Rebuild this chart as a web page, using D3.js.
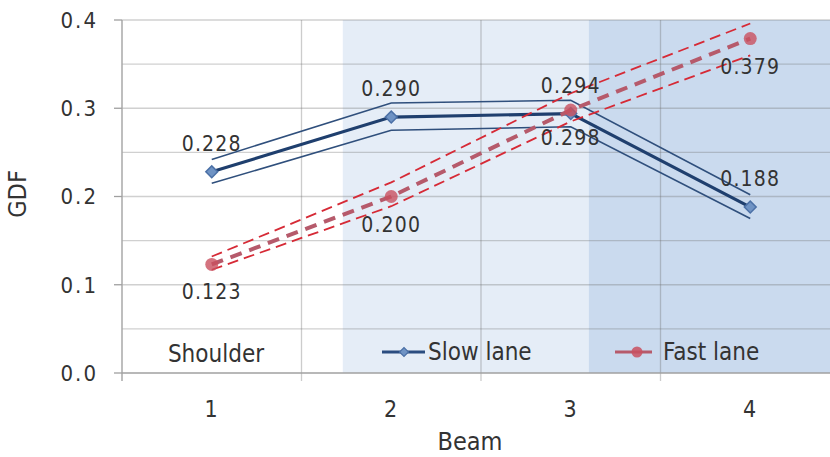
<!DOCTYPE html>
<html>
<head>
<meta charset="utf-8">
<script src="https://cdn.jsdelivr.net/npm/d3@7"></script>
<style>
  body { margin: 0; background: #fff; }
  svg text { font-family: "DejaVu Sans Condensed", "Liberation Sans", Arial, sans-serif; fill: #333; }
  svg text.num { font-size: 21px; letter-spacing: 1.2px; }
  svg text.word { font-size: 24px; }
</style>
</head>
<body>
<div id="chart"></div>
<script>
// GDF per beam, slow lane vs fast lane with bounds

const beams = [1, 2, 3, 4];
const slowLane = [0.228, 0.290, 0.294, 0.188];
const slowUpper = [0.242, 0.306, 0.309, 0.202];
const slowLower = [0.215, 0.275, 0.279, 0.175];
const fastLane = [0.123, 0.200, 0.298, 0.379];
const fastUpper = [0.132, 0.216, 0.317, 0.396];
const fastLower = [0.117, 0.189, 0.285, 0.360];
const yTicks = [0.0, 0.1, 0.2, 0.3, 0.4];
const gridValues = [0.05, 0.1, 0.15, 0.2, 0.25, 0.3, 0.35, 0.4];
const zoneNames = ["Shoulder", "Slow lane", "Fast lane"];
const zoneEdges = [0.5, 1.73, 3.1, 4.6];
const zoneColors = ["#ffffff", "#e5edf7", "#cadaee"];

const width = 830, height = 457;
const plotLeft = 122, plotRight = 840, plotTop = 20, plotBottom = 373;

const svg = d3.select("#chart").append("svg")
    .attr("width", width)
    .attr("height", height);

const x = d3.scaleLinear().domain([0.5, 4.5]).range([plotLeft, plotRight]);
const y = d3.scaleLinear().domain([0, 0.4]).range([plotBottom, plotTop]);

// background zones
svg.append("g").selectAll("rect")
    .data(zoneNames)
    .enter()
    .append("rect")
    .attr("x", (d, i) => x(zoneEdges[i]))
    .attr("y", y(0.4))
    .attr("width", (d, i) => x(zoneEdges[i + 1]) - x(zoneEdges[i]))
    .attr("height", y(0) - y(0.4))
    .attr("fill", (d, i) => zoneColors[i]);

// grid
const gGrid = svg.append("g").attr("class", "grid");
gGrid.selectAll("line.h")
    .data(gridValues)
    .enter()
    .append("line")
    .attr("x1", x(0.5)).attr("x2", plotRight)
    .attr("y1", d => y(d)).attr("y2", d => y(d))
    .attr("stroke", "rgba(110,110,110,0.32)")
    .attr("stroke-width", 1.3);

gGrid.selectAll("line.v")
    .data([1.5, 2.5, 3.5])
    .enter()
    .append("line")
    .attr("x1", d => x(d)).attr("x2", d => x(d))
    .attr("y1", y(0.4)).attr("y2", y(0) + 8)
    .attr("stroke", "rgba(110,110,110,0.35)")
    .attr("stroke-width", 1.3);

// axes
svg.append("line")
    .attr("x1", x(0.5)).attr("x2", x(0.5))
    .attr("y1", y(0.4)).attr("y2", y(0) + 8)
    .attr("stroke", "#a8a8a8").attr("stroke-width", 1.5);
svg.append("line")
    .attr("x1", x(0.5)).attr("x2", plotRight)
    .attr("y1", y(0)).attr("y2", y(0))
    .attr("stroke", "#a0a0a0").attr("stroke-width", 1.5);

svg.append("g").selectAll("line")
    .data(yTicks)
    .enter()
    .append("line")
    .attr("x1", x(0.5) - 8).attr("x2", x(0.5))
    .attr("y1", d => y(d)).attr("y2", d => y(d))
    .attr("stroke", "#a0a0a0").attr("stroke-width", 1.3);

svg.append("g").selectAll("text")
    .data(yTicks)
    .enter()
    .append("text")
    .attr("class", "num")
    .attr("x", 98)
    .attr("y", d => y(d))
    .attr("dy", "0.36em")
    .attr("text-anchor", "end")
    .style("font-size", "22px")
    .style("letter-spacing", "2px")
    .text(d => d.toFixed(1));

svg.append("g").selectAll("text")
    .data(beams)
    .enter()
    .append("text")
    .attr("class", "num")
    .attr("x", d => x(d))
    .attr("y", 417)
    .attr("text-anchor", "middle")
    .style("font-size", "23px")
    .text(d => d);

svg.append("text")
    .attr("class", "word")
    .attr("x", 470)
    .attr("y", 450)
    .attr("text-anchor", "middle")
    .style("font-size", "25px")
    .text("Beam");

svg.append("text")
    .attr("class", "word")
    .attr("transform", "rotate(-90)")
    .attr("x", -194)
    .attr("y", 26)
    .attr("text-anchor", "middle")
    .style("font-size", "25px")
    .text("GDF");

// series
const line = d3.line().x((d, i) => x(beams[i])).y(d => y(d));

const gSlow = svg.append("g");
[slowUpper, slowLower].forEach(s => {
    gSlow.append("path")
        .attr("d", line(s))
        .attr("fill", "none")
        .attr("stroke", "#2f4f7c")
        .attr("stroke-width", 1.6);
});
gSlow.append("path")
    .attr("d", line(slowLane))
    .attr("fill", "none")
    .attr("stroke", "#1f3f6e")
    .attr("stroke-width", 3.2);

const gFast = svg.append("g");
[fastUpper, fastLower].forEach(s => {
    gFast.append("path")
        .attr("d", line(s))
        .attr("fill", "none")
        .attr("stroke", "#d62a36")
        .attr("stroke-width", 1.8)
        .attr("stroke-dasharray", "11,6");
});
gFast.append("path")
    .attr("d", line(fastLane))
    .attr("fill", "none")
    .attr("stroke", "#b65a6b")
    .attr("stroke-width", 4)
    .attr("stroke-dasharray", "12,8");

gSlow.selectAll(".mk")
    .data(slowLane)
    .enter()
    .append("path")
    .attr("d", d3.symbol().type(d3.symbolSquare).size(70)())
    .attr("transform", (d, i) => `translate(${x(beams[i])},${y(d)}) rotate(45)`)
    .attr("fill", "#6f93c4")
    .attr("stroke", "#4b70a6")
    .attr("stroke-width", 1.5);

gFast.selectAll(".mk")
    .data(fastLane)
    .enter()
    .append("circle")
    .attr("cx", (d, i) => x(beams[i]))
    .attr("cy", d => y(d))
    .attr("r", 6.5)
    .attr("fill", "#c9505f")
    .attr("fill-opacity", 0.8);

// data labels
svg.append("g").selectAll("text")
    .data(slowLane)
    .enter()
    .append("text")
    .attr("class", "num")
    .attr("x", (d, i) => x(beams[i]))
    .attr("y", d => y(d) - 21)
    .attr("text-anchor", "middle")
    .text(d => d.toFixed(3));

svg.append("g").selectAll("text")
    .data(fastLane)
    .enter()
    .append("text")
    .attr("class", "num")
    .attr("x", (d, i) => x(beams[i]))
    .attr("y", d => y(d) + 35)
    .attr("text-anchor", "middle")
    .text(d => d.toFixed(3));

// zone legend
svg.append("text")
    .attr("class", "word")
    .attr("x", 216)
    .attr("y", 362)
    .attr("text-anchor", "middle")
    .text(zoneNames[0]);

const legY = 352;
const gLeg = svg.append("g");
gLeg.append("line")
    .attr("x1", 382).attr("x2", 425)
    .attr("y1", legY).attr("y2", legY)
    .attr("stroke", "#2b4d80").attr("stroke-width", 3);
gLeg.append("path")
    .attr("d", d3.symbol().type(d3.symbolSquare).size(40)())
    .attr("transform", `translate(404,${legY}) rotate(45)`)
    .attr("fill", "#6f93c4").attr("stroke", "#4b70a6").attr("stroke-width", 1.2);
gLeg.append("text")
    .attr("class", "word")
    .attr("x", 428).attr("y", legY + 8)
    .text(zoneNames[1]);

gLeg.append("line")
    .attr("x1", 615).attr("x2", 652)
    .attr("y1", legY).attr("y2", legY)
    .attr("stroke", "#b65a6b").attr("stroke-width", 3);
gLeg.append("circle")
    .attr("cx", 637).attr("cy", legY).attr("r", 5.5)
    .attr("fill", "#c9505f").attr("fill-opacity", 0.85);
gLeg.append("text")
    .attr("class", "word")
    .attr("x", 663).attr("y", legY + 8)
    .text(zoneNames[2]);
</script>
</body>
</html>
